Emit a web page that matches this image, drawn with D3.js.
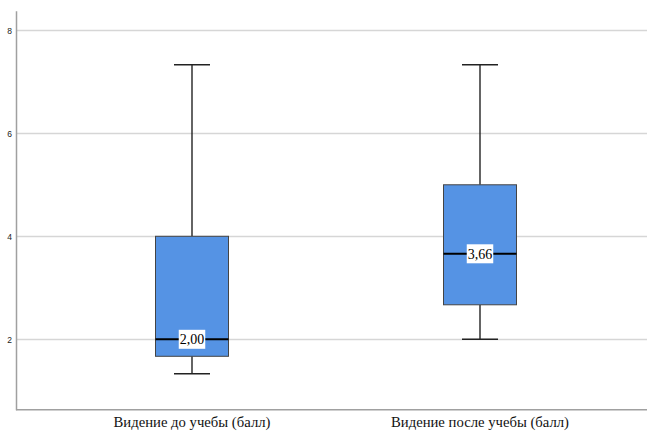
<!DOCTYPE html>
<html><head><meta charset="utf-8">
<script src="https://cdn.jsdelivr.net/npm/d3@7"></script>
<style>body{margin:0;background:#fff}svg{display:block}</style>
</head><body><svg id="c" width="647" height="431"></svg>
<script>
const categories = ["Видение до учебы (балл)", "Видение после учебы (балл)"];
const whiskerLow = [1.33, 2.00];
const q1 = [1.67, 2.67];
const median = [2.00, 3.66];
const q3 = [4.00, 5.00];
const whiskerHigh = [7.33, 7.33];
const medianLabels = ["2,00", "3,66"];
const yTicks = [2, 4, 6, 8];

const serif = "'Liberation Serif', 'Times New Roman', 'DejaVu Serif', serif";
const sans = "'Liberation Sans', Arial, sans-serif";
const svg = d3.select("#c");
const y = d3.scaleLinear().domain([0.633, 8.38]).range([409.7, 10.7]);
const x = d3.scaleBand().domain(categories).range([48, 624]);
const boxW = 73, capW = 36;

// grid
svg.append("g").selectAll("line").data(yTicks).join("line")
  .attr("x1", 16).attr("x2", 647)
  .attr("y1", d => Math.round(y(d)) + 0.5).attr("y2", d => Math.round(y(d)) + 0.5)
  .attr("stroke", "#d6d6d6").attr("stroke-width", 1.5);

// y axis
const ya = svg.append("g").attr("transform", "translate(16,0)")
  .call(d3.axisLeft(y).tickValues(yTicks).tickSize(0).tickPadding(4).tickFormat(d3.format("d")));
ya.attr("font-family", null);
ya.select(".domain").attr("stroke", "#a0a0a0").attr("stroke-width", 1.5);
ya.selectAll("text").style("font-family", sans).style("font-size", "8.5px").attr("fill", "#222");

// x axis
const xa = svg.append("g").attr("transform", "translate(0,409.7)")
  .call(d3.axisBottom(x).tickSize(0).tickPadding(0));
xa.attr("font-family", null).attr("font-size", null);
xa.select(".domain").remove();
svg.append("line").attr("x1", 16).attr("x2", 647).attr("y1", 409.7).attr("y2", 409.7)
  .attr("stroke", "#a0a0a0").attr("stroke-width", 1.5);
const xt = xa.selectAll("text").style("font-family", serif)
  .style("font-size", "13px").attr("fill", "#111").attr("dy", null).attr("y", 17.5);
// fit first label to the reference width (~157px)
const w0 = xt.node().getComputedTextLength();
const fs = Math.max(12, Math.min(15, 13 * 157 / w0));
xt.style("font-size", fs + "px");

const g = svg.append("g");
categories.forEach((c, i) => {
  const cx = Math.round(x(c) + x.bandwidth() / 2);
  // whiskers
  g.append("line").attr("x1", cx).attr("x2", cx).attr("y1", y(whiskerHigh[i])).attr("y2", y(q3[i]))
    .attr("stroke", "#111").attr("stroke-width", 1.3);
  g.append("line").attr("x1", cx).attr("x2", cx).attr("y1", y(q1[i])).attr("y2", y(whiskerLow[i]))
    .attr("stroke", "#111").attr("stroke-width", 1.3);
  [whiskerHigh[i], whiskerLow[i]].forEach(v => {
    g.append("line").attr("x1", cx - capW / 2).attr("x2", cx + capW / 2).attr("y1", y(v)).attr("y2", y(v))
      .attr("stroke", "#222").attr("stroke-width", 1.5);
  });
  // box
  g.append("rect").attr("x", cx - boxW / 2).attr("width", boxW)
    .attr("y", y(q3[i])).attr("height", y(q1[i]) - y(q3[i]))
    .attr("fill", "#5593e4").attr("stroke", "#444").attr("stroke-width", 1);
  // median
  g.append("line").attr("x1", cx - boxW / 2).attr("x2", cx + boxW / 2).attr("y1", y(median[i])).attr("y2", y(median[i]))
    .attr("stroke", "#000").attr("stroke-width", 2);
  // label
  const t = g.append("text").attr("x", cx).attr("y", y(median[i])).attr("dy", "0.35em")
    .attr("text-anchor", "middle").style("font-family", serif)
    .style("font-size", "14px").attr("fill", "#000").text(medianLabels[i]);
  const bb = t.node().getBBox();
  g.insert("rect", () => t.node()).attr("x", bb.x - 1).attr("y", y(median[i]) - 9.5)
    .attr("width", bb.width + 2).attr("height", 19).attr("fill", "#fff");
});
</script></body></html>
